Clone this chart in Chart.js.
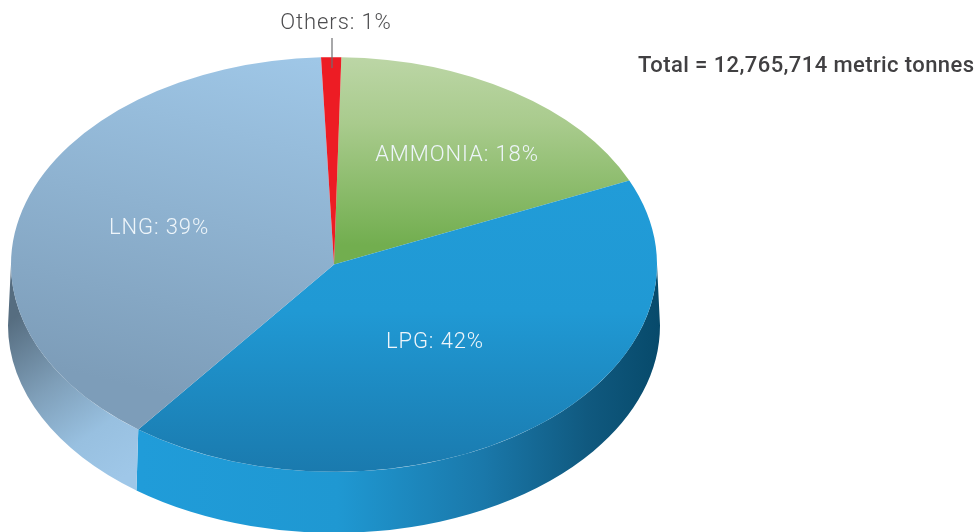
<!DOCTYPE html>
<html>
<head>
<meta charset="utf-8">
<style>
html,body{margin:0;padding:0;background:#fff;overflow:hidden}
#wrap{position:relative;width:977px;height:532px}
canvas{display:block}
</style>
<script src="https://cdn.jsdelivr.net/npm/chart.js@4"></script>
</head>
<body>
<div id="wrap"><canvas id="c" width="977" height="532"></canvas></div>
<script>
const categories = ['AMMONIA', 'LPG', 'LNG', 'Others'];
const shares = [18, 42, 39, 1];
const totalNote = 'Total = 12,765,714 metric tonnes';

const TILT = 0.642, CX = 334, CY = 264.5, DEPTH = 61, RADIUS = 323, WALL_RX = 326;
const uy = y => CY + (y - CY) / TILT;   // page y -> tilted-space y

function grad(ctx, x0, y0, x1, y1, stops) {
  const g = ctx.createLinearGradient(x0, uy(y0), x1, uy(y1));
  stops.forEach(s => g.addColorStop(s[0], s[1]));
  return g;
}
const topFills = [
  c => grad(c, 0, 57, 0, 245, [[0, '#bcd6a6'], [0.35, '#a9cb8d'], [1, '#72ae4f']]),
  c => grad(c, 0, 180, 0, 472, [[0, '#219cd8'], [0.45, '#2099d4'], [1, '#1a7aae']]),
  c => grad(c, 320, 60, 125, 385, [[0, '#9fc7e7'], [1, '#7d9db9']]),
  c => '#ed1c24'
];
const wallFills = [
  null,
  c => { const g = c.createLinearGradient(140, 0, 660, 0);
    [[0, '#209cd9'], [0.38, '#1f98d2'], [0.66, '#1a78aa'], [0.86, '#10597f'], [1, '#074a6b']].forEach(s => g.addColorStop(s[0], s[1])); return g; },
  c => { const g = c.createLinearGradient(25, 310, 135, 470);
    [[0, '#566d80'], [0.4, '#7f9fb9'], [0.72, '#98c0e0'], [1, '#9fc7e8']].forEach(s => g.addColorStop(s[0], s[1])); return g; },
  null
];

const pie3d = {
  id: 'pie3d',
  beforeDatasetsDraw(chart) {
    const c = chart.ctx;
    const arcs = chart.getDatasetMeta(0).data;
    arcs.forEach((a, i) => {
      if (!wallFills[i]) return;
      // visible (front) part of the wall: canvas angles between 0 and PI
      const from = Math.max(a.startAngle, 0), to = Math.min(a.endAngle, Math.PI);
      if (to <= from) return;
      c.save();
      c.beginPath();
      c.ellipse(a.x, a.y, a.outerRadius, a.outerRadius * TILT, 0, from, to);
      c.ellipse(a.x, a.y + DEPTH, WALL_RX, a.outerRadius * TILT, 0, to, from, true);
      c.closePath();
      c.fillStyle = wallFills[i](c);
      c.fill();
      c.restore();
    });
    c.save();
    c.translate(CX, CY); c.scale(1, TILT); c.translate(-CX, -CY);
  },
  afterDatasetsDraw(chart) {
    const c = chart.ctx;
    c.restore();
    c.save();
    c.textBaseline = 'middle';
    c.textAlign = 'center';
    c.font = '300 22px Roboto';
    c.letterSpacing = '0.9px';
    c.fillStyle = '#eef5fa';
    const spots = [[457, 155], [435, 342], [159, 228]];
    spots.forEach((p, i) => c.fillText(categories[i] + ': ' + shares[i] + '%', p[0], p[1]));
    c.fillStyle = '#4d4d4f';
    c.fillText(categories[3] + ': ' + shares[3] + '%', 336, 23);
    c.strokeStyle = '#6d6e71';
    c.lineWidth = 1.2;
    c.beginPath(); c.moveTo(332, 38); c.lineTo(332, 68); c.stroke();
    c.textAlign = 'left';
    c.font = '500 22px Roboto';
    c.letterSpacing = '0.4px';
    c.fillStyle = '#414042';
    c.fillText(totalNote, 638, 66);
    c.restore();
  }
};

new Chart(document.getElementById('c'), {
  type: 'pie',
  data: {
    labels: categories,
    datasets: [{
      data: shares,
      borderWidth: 0,
      backgroundColor: ctx => topFills[ctx.dataIndex](ctx.chart.ctx)
    }]
  },
  options: {
    responsive: false,
    animation: false,
    rotation: 1.3,
    radius: RADIUS,
    layout: { padding: { right: 977 - 2 * CX, bottom: 532 - 2 * CY } },
    plugins: { legend: { display: false }, tooltip: { enabled: false } },
    events: []
  },
  plugins: [pie3d]
});
</script>
</body>
</html>
